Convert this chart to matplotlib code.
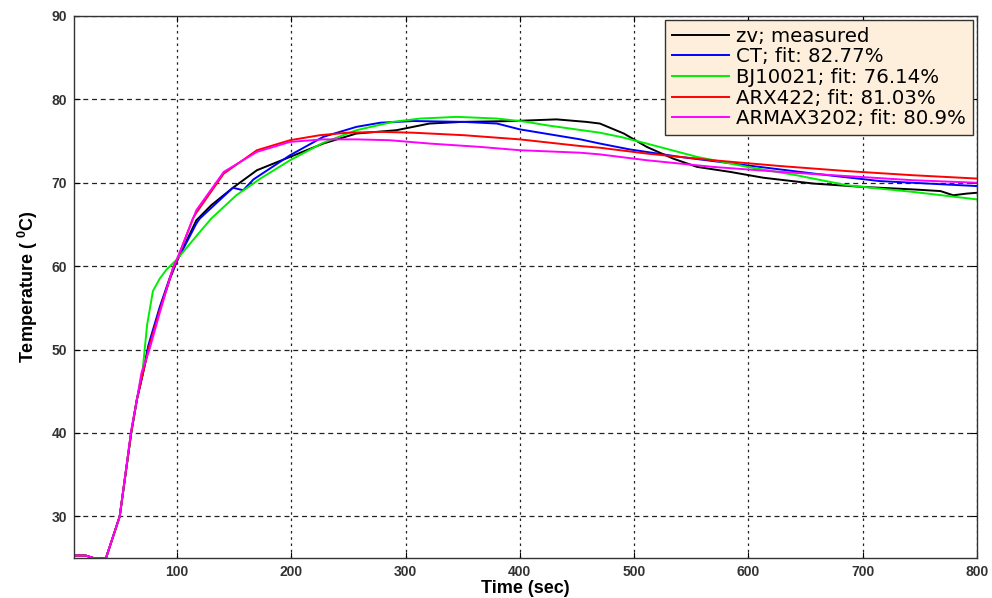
import numpy as np
import matplotlib
matplotlib.use('Agg')
import matplotlib.pyplot as plt

# Time (sec) and temperature (degC) samples for the measured output and the model fits
t_meas = [10, 20, 27, 38, 50, 60, 65, 70, 75, 85, 94, 100, 117, 130, 149, 158, 170,
          199, 228, 257, 292, 321, 350, 394, 432, 458, 470, 491, 511, 534, 555, 584,
          613, 657, 700, 744, 768, 779, 791, 800]
y_meas = [25.3, 25.3, 25.0, 25.0, 30.0, 40.0, 44.0, 47.0, 50.0, 54.8, 58.5, 60.6, 65.5,
          67.3, 69.4, 70.3, 71.5, 73.1, 74.7, 75.9, 76.3, 77.1, 77.3, 77.4, 77.6, 77.3,
          77.1, 75.9, 74.3, 72.9, 71.9, 71.3, 70.6, 69.9, 69.5, 69.2, 69.0, 68.5, 68.7, 68.8]

t_ct = [10, 20, 27, 38, 50, 60, 65, 70, 75, 85, 94, 100, 117, 120, 149, 158, 167, 199,
        228, 257, 278, 307, 350, 380, 400, 453, 470, 496, 540, 598, 657, 715, 800]
y_ct = [25.3, 25.3, 25.0, 25.0, 30.0, 40.0, 44.0, 47.0, 50.5, 55.1, 58.7, 60.6, 65.1,
        65.7, 69.4, 69.1, 70.4, 73.3, 75.5, 76.7, 77.2, 77.4, 77.3, 77.1, 76.4, 75.2,
        74.7, 74.0, 73.1, 72.1, 71.1, 70.2, 69.6]

t_bj = [10, 20, 27, 38, 50, 60, 65, 70, 74, 79, 85, 91, 100, 117, 130, 152, 173, 199,
        228, 257, 289, 313, 345, 380, 406, 423, 470, 488, 511, 555, 599, 642, 686, 744, 800]
y_bj = [25.3, 25.3, 25.0, 25.0, 30.0, 40.0, 44.0, 47.5, 53.0, 57.0, 58.5, 59.6, 60.8,
        63.6, 65.7, 68.5, 70.5, 72.7, 74.8, 76.3, 77.3, 77.7, 77.9, 77.7, 77.3, 76.9,
        76.0, 75.5, 74.7, 73.1, 71.9, 70.9, 69.7, 68.9, 68.0]

t_arx = [10, 20, 27, 38, 50, 60, 65, 70, 76, 85, 96, 100, 114, 117, 141, 170, 199, 225,
         249, 278, 307, 351, 400, 453, 470, 511, 569, 628, 686, 744, 800]
y_arx = [25.3, 25.3, 25.0, 25.0, 30.0, 40.0, 44.0, 47.0, 50.5, 54.7, 59.5, 60.7, 65.7,
         66.4, 71.1, 73.9, 75.1, 75.7, 76.0, 76.1, 76.0, 75.7, 75.2, 74.4, 74.2, 73.5,
         72.7, 72.0, 71.4, 70.9, 70.5]

t_armax = [10, 20, 27, 38, 50, 60, 65, 69, 76, 85, 97, 100, 117, 141, 170, 199, 228,
           257, 286, 321, 365, 400, 453, 470, 511, 569, 628, 686, 744, 800]
y_armax = [25.3, 25.3, 25.0, 25.0, 30.0, 40.3, 44.0, 47.2, 50.0, 54.4, 60.0, 60.8, 66.7,
           71.3, 73.7, 74.9, 75.2, 75.2, 75.1, 74.7, 74.3, 73.9, 73.6, 73.4, 72.7, 71.9,
           71.3, 70.8, 70.3, 70.0]

labels = ['zv; measured', 'CT; fit: 82.77%', 'BJ10021; fit: 76.14%',
          'ARX422; fit: 81.03%', 'ARMAX3202; fit: 80.9%']
colors = ['black', 'blue', '#00ee00', 'red', 'magenta']

plt.rcParams['font.family'] = ['Liberation Sans', 'DejaVu Sans']

fig = plt.figure(figsize=(9.92, 5.98), dpi=100)
ax = fig.add_axes([0.0746, 0.0669, 0.9104, 0.9064])

series = [(t_meas, y_meas), (t_ct, y_ct), (t_bj, y_bj), (t_arx, y_arx),
          (t_armax, y_armax)]
for (tt, yy), lab, col in zip(series, labels, colors):
    ax.plot(tt, yy, color=col, lw=1.4, label=lab)

ax.set_xlim(10, 800)
ax.set_ylim(25, 90)
ax.set_xticks(np.arange(100, 801, 100))
ax.set_yticks(np.arange(30, 91, 10))

# MATLAB-like grid: dotted verticals, dashed horizontals
ax.xaxis.grid(True, color='#222222', linestyle=(0, (2, 3)), lw=0.9)
ax.yaxis.grid(True, color='#222222', linestyle=(0, (4, 3)), lw=0.9)
ax.tick_params(direction='in', length=4, width=0.8, top=True, right=True,
               labelsize=10, pad=5)
for lbl in ax.get_xticklabels() + ax.get_yticklabels():
    lbl.set_fontweight('bold')
    lbl.set_color('#333333')
for sp in ax.spines.values():
    sp.set_linewidth(1.0)
    sp.set_color('#333333')

label_font = dict(fontweight='bold', fontsize=13)
ax.set_xlabel('Time (sec)', labelpad=1, **label_font)
ax.set_ylabel(r'Temperature ( $\mathregular{^0}$C)', labelpad=8, **label_font)

leg = ax.legend(loc='upper right', handlelength=2.9, borderaxespad=0.2,
                fancybox=False, framealpha=1, labelspacing=0.08,
                handletextpad=0.35, borderpad=0.35,
                prop=dict(family='DejaVu Sans', size=14.2))
leg.get_frame().set_facecolor('#fdefdc')
leg.get_frame().set_edgecolor('#333333')
leg.get_frame().set_linewidth(1.0)

fig.savefig('out.png', dpi=100)
